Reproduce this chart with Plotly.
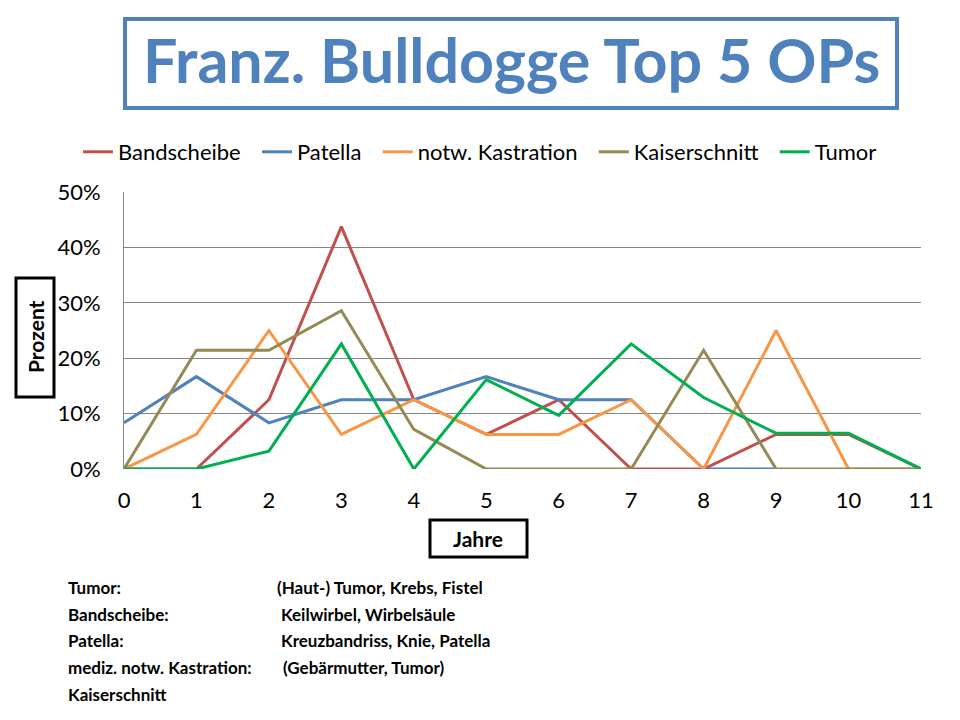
import plotly.graph_objects as go

# Jahre 0..11
jahre = list(range(12))

bandscheibe = [0, 0, 0.125, 0.4375, 0.125, 0.0625, 0.125, 0, 0, 0.0625, 0.0625, 0]
patella = [0.0833, 0.1667, 0.0833, 0.125, 0.125, 0.1667, 0.125, 0.125, 0, 0, None, None]
kastration = [0, 0.0625, 0.25, 0.0625, 0.125, 0.0625, 0.0625, 0.125, 0, 0.25, 0, 0]
kaiserschnitt = [0, 0.2143, 0.2143, 0.2857, 0.0714, 0, 0, 0, 0.2143, 0, 0, 0]
tumor = [0, 0, 0.0323, 0.2258, 0, 0.1613, 0.0968, 0.2258, 0.129, 0.0645, 0.0645, 0]

serien = [
    ("Bandscheibe", bandscheibe, "#C0504D"),
    ("Patella", patella, "#4F81BD"),
    ("notw. Kastration", kastration, "#F79646"),
    ("Kaiserschnitt", kaiserschnitt, "#948A54"),
    ("Tumor", tumor, "#00B050"),
]

legende_links = ["Tumor:", "Bandscheibe:", "Patella:", "mediz. notw. Kastration:", "Kaiserschnitt"]
legende_rechts = ["(Haut-) Tumor, Krebs, Fistel", "Keilwirbel, Wirbelsäule",
                  "Kreuzbandriss, Knie, Patella", "(Gebärmutter, Tumor)", ""]

FONT = "Lato, Carlito, Calibri, sans-serif"
# page body has an 8px margin, so the figure is a bit smaller and shifted
OFF = 8
W, H = 960 - OFF, 720 - OFF
L, R, T, B = 124 - OFF, 921 - OFF, 192 - OFF, 469 - OFF


def px(x):
    return (x - OFF - L) / (R - L)


def py(y):
    return (B - (y - OFF)) / (B - T)


fig = go.Figure()
for i, (name, vals, col) in enumerate(serien):
    # a little extra room between legend entries, like the original
    label = name if i == len(serien) - 1 else name + "\u00a0\u00a0"
    fig.add_trace(go.Scatter(x=jahre, y=vals, name=label, mode="lines",
                             line=dict(color=col, width=3), cliponaxis=False))

shapes = [
    # title box
    dict(type="rect", xref="paper", yref="paper", x0=px(125), x1=px(897), y0=py(19), y1=py(108),
         line=dict(color="#4F81BD", width=4)),
    # Prozent box
    dict(type="rect", xref="paper", yref="paper", x0=px(16), x1=px(54), y0=py(278), y1=py(397),
         line=dict(color="black", width=3)),
    # Jahre box
    dict(type="rect", xref="paper", yref="paper", x0=px(430), x1=px(527), y0=py(520), y1=py(557),
         line=dict(color="black", width=3)),
]


def note(text, x, y, size, color="black", xanchor="center", angle=0):
    return dict(text=text, x=px(x), y=py(y), xref="paper", yref="paper", showarrow=False,
                xanchor=xanchor, yanchor="middle", textangle=angle,
                font=dict(family=FONT, size=size, color=color))


annotations = [
    note("<b>Franz. Bulldogge Top 5 OPs</b>", 511, 59, 61, "#4F81BD"),
    note("<b>Prozent</b>", 35, 337, 21, angle=-90),
    note("<b>Jahre</b>", 478, 538, 21),
]
zeilen_y = [587, 614, 640, 667, 694]
rechts_x = [275, 279, 279, 281, 279]
for yy, xr, a, b in zip(zeilen_y, rechts_x, legende_links, legende_rechts):
    annotations.append(note(f"<b>{a}</b>", 66, yy, 17, xanchor="left"))
    if b:
        annotations.append(note(f"<b>{b}</b>", xr, yy, 17, xanchor="left"))

fig.update_layout(
    width=W, height=H,
    margin=dict(l=L, r=W - R, t=T, b=H - B, autoexpand=False),
    paper_bgcolor="white", plot_bgcolor="white",
    font=dict(family=FONT, size=22, color="black"),
    shapes=shapes, annotations=annotations,
    legend=dict(orientation="h", xref="paper", yref="paper", x=px(78), y=py(152),
                xanchor="left", yanchor="middle", font=dict(size=22),
                itemwidth=30, traceorder="normal"),
    xaxis=dict(range=[0, 11], tickvals=jahre, showgrid=False, zeroline=False, showline=False,
               ticks="", ticklabelstandoff=16, tickfont=dict(size=22)),
    yaxis=dict(range=[0, 0.5], dtick=0.1, tickformat=".0%", gridcolor="#868686", gridwidth=1,
               zeroline=False, showline=True, linecolor="#868686", linewidth=1, ticks="",
               ticklabelstandoff=18, tickfont=dict(size=22)),
)

fig.write_html("out.html")
